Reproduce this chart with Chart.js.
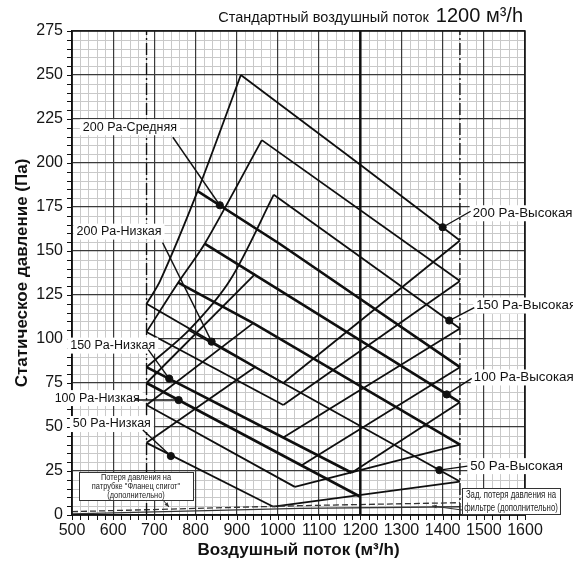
<!DOCTYPE html>
<html>
<head>
<meta charset="utf-8">
<title>Статическое давление</title>
<script src="https://cdn.jsdelivr.net/npm/chart.js@4.4.1/dist/chart.umd.min.js"></script>
<style>
  body { margin: 0; background: #fff; }
</style>
</head>
<body>
<canvas id="chart" width="573" height="569"></canvas>
<script>
'use strict';

// airflow limits and standard flow (m3/h)
const flowMin = 681;
const flowMax = 1442;
const flowStd = 1200;

// upper system curves (flow, Pa)
const sysA = [[681, 120], [714, 133], [805, 184], [910, 250]];
const sysB = [[681, 104], [762, 133.5], [823, 154.4], [961, 213]];
const sysC = [[681, 84], [784, 105], [884, 133.5], [990, 182]];
const sys100 = [[681, 75], [945, 137]];
const sys75 = [[681, 62.5], [940, 109]];
const sys50 = [[681, 41], [944, 84]];

// lower system curves
const sysR200 = [[1013, 75], [1442, 156]];
const sysR175 = [[1013, 62.5], [1442, 133]];
const sysR150 = [[1013, 44], [1442, 106]];
const sysR125 = [[1056, 28], [1442, 84]];
const sysR100 = [[1179, 24], [1442, 64]];
const sysR75 = [[1041, 16], [1442, 40]];
const sysR50 = [[989, 4.7], [1442, 19]];

// fan curves, upper group
const high200 = [[910, 250], [1200, 199], [1442, 156]];
const fan175 = [[961, 213], [1442, 133]];
const high150 = [[990, 182], [1442, 106]];
const med200 = [[805, 184], [1005, 154], [1442, 84]];
const high100 = [[823, 154], [1442, 64]];
const fan75 = [[758, 132], [940, 109], [1442, 40]];
const high50 = [[784, 105], [944, 84], [1442, 19]];

// fan curves, lower group
const low200 = [[681, 120], [1013, 75]];
const low175 = [[681, 104], [1013, 62.5]];
const low150 = [[681, 84], [1179, 24]];
const low100 = [[681, 75], [1199, 10.5]];
const low75 = [[681, 62.5], [1041, 16]];
const low50 = [[681, 41], [989, 4.7]];

// extra losses
const flangeLoss = [[500, 1.9], [1053, 5.3], [1442, 7]];
const filterLoss = [[500, 0.6], [1053, 3.8], [1442, 4.7]];

// marked points
const dotLabels = ['200 Pa-Высокая', '150 Pa-Высокая', '100 Pa-Высокая', '50 Pa-Высокая',
  '200 Pa-Средняя', '200 Pa-Низкая', '150 Pa-Низкая', '100 Pa-Низкая', '50 Pa-Низкая'];
const dotFlow = [1400, 1416, 1410, 1392, 859, 839, 736, 759, 740];
const dotPa = [163.5, 110.5, 68.5, 25.5, 176, 98.5, 77.5, 65.3, 33.5];

const FONT = "'Liberation Sans', Arial, Helvetica, sans-serif";

// where each callout text sits, relative to its dot (px)
const calloutLayout = [
  { ptr: [28, -16], text: [30, -14], size: 13.3 },
  { ptr: [25, -13], text: [27, -15], size: 13.3 },
  { ptr: [25, -16], text: [27, -17], size: 13.3 },
  { ptr: [28, -4], text: [31, -4], size: 13.3 },
  { ptr: [-47, -68], text: [-137, -78], size: 12.5 },
  { ptr: [-49, -99], text: [-135, -110], size: 12.5 },
  { ptr: [-21, -29], text: [-99, -33], size: 12.5 },
  { ptr: [-44, 0], text: [-124, -2], size: 12.5 },
  { ptr: [-28, -26], text: [-98, -32], size: 12.5 }
];

const THIN = 1.8;
const THICK = 2.6;

function line(pts, width, extra) {
  return Object.assign({
    data: pts.map(p => ({ x: p[0], y: p[1] })),
    showLine: true,
    borderColor: '#0f0f0f',
    borderWidth: width || THIN,
    pointRadius: 0,
    tension: 0,
    fill: false
  }, extra || {});
}

let datasets = [
  line([[flowMin, 0], [flowMin, 275]], 1.4, { borderDash: [12, 3, 2, 3] }),
  line([[flowMax, 0], [flowMax, 275]], 1.4, { borderDash: [12, 3, 2, 3] }),
  line([[flowStd, 0], [flowStd, 275]], 2.4),
  line(flangeLoss, 1.3, { borderDash: [6, 3], borderColor: '#333' }),
  line(filterLoss, 1.3, { borderColor: '#333' }),

  line(sysA, THIN, { tension: 0.3 }),
  line(sysB, THIN, { tension: 0.3 }),
  line(sysC, THIN, { tension: 0.3 }),
  line(sys100), line(sys75), line(sys50),
  line(sysR200), line(sysR175), line(sysR150), line(sysR125),
  line(sysR100), line(sysR75), line(sysR50),

  line(high200), line(fan175), line(high150),
  line(med200, THICK), line(high100, THICK), line(fan75, THICK), line(high50),
  line(low200), line(low175), line(low150, THICK), line(low100, THICK),
  line(low75), line(low50),

  {
    data: dotFlow.map((x, i) => ({ x: x, y: dotPa[i] })),
    showLine: false,
    pointRadius: 3.6,
    pointBackgroundColor: '#111',
    pointBorderColor: '#111'
  }
];

// light paper grid + small tick marks, drawn under the main grid
const paperGrid = {
  id: 'paperGrid',
  beforeDraw(chart) {
    const { ctx, chartArea: a, scales: { x, y } } = chart;
    ctx.save();
    ctx.fillStyle = '#fff';
    ctx.fillRect(0, 0, chart.width, chart.height);
    ctx.strokeStyle = '#c9c9c9';
    ctx.lineWidth = 1;
    ctx.beginPath();
    for (let v = 520; v < 1600; v += 20) {
      if (v % 100 === 0) continue;
      const px = Math.round(x.getPixelForValue(v)) + 0.5;
      ctx.moveTo(px, a.top); ctx.lineTo(px, a.bottom);
    }
    for (let v = 5; v < 275; v += 5) {
      if (v % 25 === 0) continue;
      const py = Math.round(y.getPixelForValue(v)) + 0.5;
      ctx.moveTo(a.left, py); ctx.lineTo(a.right, py);
    }
    ctx.stroke();

    ctx.strokeStyle = '#111';
    ctx.beginPath();
    for (let v = 500; v <= 1600; v += 20) {
      const px = Math.round(x.getPixelForValue(v)) + 0.5;
      ctx.moveTo(px, a.bottom); ctx.lineTo(px, a.bottom + 5);
    }
    for (let v = 0; v <= 275; v += 5) {
      const py = Math.round(y.getPixelForValue(v)) + 0.5;
      ctx.moveTo(a.left - 5, py); ctx.lineTo(a.left, py);
    }
    ctx.stroke();
    ctx.restore();
  }
};

function arrow(ctx, x0, y0, x1, y1) {
  ctx.beginPath();
  ctx.moveTo(x0, y0); ctx.lineTo(x1, y1);
  ctx.stroke();
  const ang = Math.atan2(y1 - y0, x1 - x0);
  ctx.beginPath();
  ctx.moveTo(x1, y1);
  ctx.lineTo(x1 - 5 * Math.cos(ang - 0.4), y1 - 5 * Math.sin(ang - 0.4));
  ctx.lineTo(x1 - 5 * Math.cos(ang + 0.4), y1 - 5 * Math.sin(ang + 0.4));
  ctx.closePath();
  ctx.fill();
}

function noteBox(ctx, x, y, w, h, lines, size) {
  ctx.fillStyle = '#fff';
  ctx.fillRect(x, y, w, h);
  ctx.strokeStyle = '#333';
  ctx.lineWidth = 1;
  ctx.strokeRect(x + 0.5, y + 0.5, w, h);
  ctx.fillStyle = '#222';
  ctx.font = size + 'px ' + FONT;
  ctx.textAlign = 'center';
  ctx.textBaseline = 'middle';
  const step = h / lines.length;
  lines.forEach((t, i) => {
    ctx.save();
    ctx.translate(x + w / 2, y + step * (i + 0.5) + 0.5);
    ctx.scale(0.78, 1);
    ctx.fillText(t, 0, 0);
    ctx.restore();
  });
}

const callouts = {
  id: 'callouts',
  afterDatasetsDraw(chart) {
    const { ctx, chartArea: a, scales: { x, y } } = chart;
    ctx.save();

    // outer frame
    ctx.strokeStyle = '#111';
    ctx.lineWidth = 1.5;
    ctx.strokeRect(a.left, a.top, a.right - a.left, a.bottom - a.top);

    // callouts
    dotLabels.forEach((txt, i) => {
      const lay = calloutLayout[i];
      const dx = x.getPixelForValue(dotFlow[i]);
      const dy = y.getPixelForValue(dotPa[i]);
      ctx.font = lay.size + 'px ' + FONT;
      const w = ctx.measureText(txt).width;
      const tx = dx + lay.text[0];
      const ty = dy + lay.text[1];
      ctx.fillStyle = '#fff';
      ctx.fillRect(tx - 3, ty - 8, w + 6, 16);
      ctx.fillStyle = '#111';
      ctx.textAlign = 'left';
      ctx.textBaseline = 'middle';
      ctx.fillText(txt, tx, ty);
      ctx.strokeStyle = '#111';
      ctx.lineWidth = 1.4;
      ctx.beginPath();
      ctx.moveTo(dx + lay.ptr[0], dy + lay.ptr[1]);
      ctx.lineTo(dx, dy);
      ctx.stroke();
    });

    // extra loss notes
    ctx.fillStyle = '#333';
    ctx.strokeStyle = '#333';
    ctx.lineWidth = 1;
    noteBox(ctx, a.left + 7, a.bottom - 43, 114, 28,
      ['Потеря давления на', 'патрубке "Фланец спигот"', '(дополнительно)'], 9.5);
    ctx.fillStyle = '#333';
    arrow(ctx, a.left + 91, a.bottom - 15, a.left + 97, a.bottom - 8);
    noteBox(ctx, a.left + 390, a.bottom - 27, 98, 26,
      ['Зад. потеря давления на', 'фильтре (дополнительно)'], 10);
    ctx.fillStyle = '#333';
    arrow(ctx, a.left + 390, a.bottom - 5, a.left + 360, a.bottom - 9);

    // header
    const right = a.right - 2;
    ctx.fillStyle = '#111';
    ctx.textAlign = 'right';
    ctx.textBaseline = 'alphabetic';
    ctx.font = '20px ' + FONT;
    const big = '1200 м³/h';
    ctx.fillText(big, right, 22);
    const bw = ctx.measureText(big).width;
    ctx.font = '14.5px ' + FONT;
    ctx.fillText('Стандартный воздушный поток', right - bw - 7, 22);

    ctx.restore();
  }
};

new Chart(document.getElementById('chart'), {
  type: 'scatter',
  data: { datasets: datasets },
  options: {
    responsive: false,
    animation: false,
    devicePixelRatio: 1,
    layout: { padding: { top: 31, right: 48, left: 0, bottom: 0 } },
    plugins: { legend: { display: false }, tooltip: { enabled: false } },
    scales: {
      x: {
        type: 'linear',
        min: 500,
        max: 1600,
        afterFit: s => { s.height = 54; },
        ticks: { stepSize: 100, padding: 6, color: '#151515', autoSkip: false, maxRotation: 0,
          font: { family: FONT, size: 16 }, callback: v => String(v) },
        grid: { color: '#3a3a3a', lineWidth: 1.2, drawTicks: false },
        border: { color: '#111', width: 1.5 },
        title: { display: true, text: 'Воздушный поток (м³/h)', color: '#111',
          font: { family: FONT, size: 17, weight: 'bold' }, padding: { top: 0, bottom: 8 } }
      },
      y: {
        min: 0,
        max: 275,
        afterFit: s => { s.width = 72; },
        ticks: { stepSize: 25, padding: 9, color: '#151515',
          font: { family: FONT, size: 16 }, callback: v => String(v) },
        grid: { color: '#3a3a3a', lineWidth: 1.2, drawTicks: false },
        border: { color: '#111', width: 1.5 },
        title: { display: true, text: 'Статическое давление (Па)', color: '#111',
          font: { family: FONT, size: 17, weight: 'bold' }, padding: { top: 12, bottom: 0 } }
      }
    }
  },
  plugins: [paperGrid, callouts]
});
</script>
</body>
</html>
